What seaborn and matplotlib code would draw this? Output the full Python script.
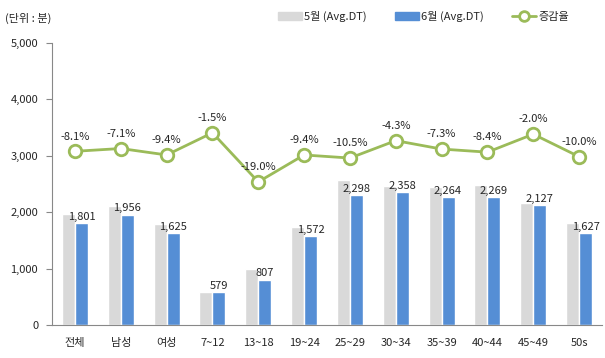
import numpy as np
import pandas as pd
import seaborn as sns
import matplotlib.pyplot as plt
from matplotlib.patches import Patch
from matplotlib.lines import Line2D

# data
groups = ['전체', '남성', '여성', '7~12', '13~18', '19~24', '25~29',
          '30~34', '35~39', '40~44', '45~49', '50s']
may = [1960, 2105, 1794, 588, 996, 1735, 2568, 2464, 2442, 2477, 2170, 1808]
june = [1801, 1956, 1625, 579, 807, 1572, 2298, 2358, 2264, 2269, 2127, 1627]
rate = [-8.1, -7.1, -9.4, -1.5, -19.0, -9.4, -10.5, -4.3, -7.3, -8.4, -2.0, -10.0]

gray = '#D9D9D9'
blue = '#558ED5'
green = '#9BBB59'

sns.set_style('white')
plt.rcParams['font.family'] = ['Noto Sans CJK KR', 'DejaVu Sans']

df = pd.DataFrame({'group': groups * 2,
                   'value': may + june,
                   'month': ['5월 (Avg.DT)'] * 12 + ['6월 (Avg.DT)'] * 12})

fig = plt.figure(figsize=(6.05, 3.58), dpi=100)
ax = fig.add_axes([0.086, 0.092, 0.909, 0.788])

sns.barplot(data=df, x='group', y='value', hue='month', order=groups,
            palette=[gray, blue], width=0.57, gap=0, ax=ax, legend=False,
            saturation=1)

# labels over the June bars
x = np.arange(len(groups))
for i, v in enumerate(june):
    ax.annotate(f'{v:,}', (i + 0.1425, v), xytext=(0, 1), textcoords='offset points',
                ha='center', va='bottom', fontsize=8)

ax.set_ylim(0, 5000)
ax.set_xlim(-0.5, len(groups) - 0.5)
ax.set_yticks(range(0, 5001, 1000))
ax.yaxis.set_major_formatter(plt.FuncFormatter(lambda v, p: f'{int(v):,}'))
ax.set_xticks(x)
ax.set_xticklabels(groups)
ax.set_xticks(np.arange(-0.5, len(groups)), minor=True)
ax.tick_params(axis='x', which='major', length=0, labelsize=8, pad=9)
ax.tick_params(axis='x', which='minor', length=4, color='#888888', direction='out')
ax.tick_params(axis='y', length=4, color='#888888', direction='out', labelsize=8, pad=6)
ax.set_xlabel('')
ax.set_ylabel('')
for s in ['top', 'right']:
    ax.spines[s].set_visible(False)
for s in ['left', 'bottom']:
    ax.spines[s].set_color('#888888')

# change rate on a hidden second axis
ax2 = ax.twinx()
sns.lineplot(x=x, y=rate, ax=ax2, color=green, lw=2, marker='o', markersize=9,
             markerfacecolor='white', markeredgecolor=green, markeredgewidth=2)
for i, r in enumerate(rate):
    ax2.annotate(f'{r:.1f}%', (i, r), xytext=(0, 7), textcoords='offset points',
                 ha='center', va='bottom', fontsize=8)
ax2.set_ylim(-70, 30.5)
ax2.set_xlim(-0.5, len(groups) - 0.5)
ax2.axis('off')

fig.text(0.008, 0.94, '(단위 : 분)', fontsize=8)

handles = [Patch(color=gray), Patch(color=blue),
           Line2D([], [], color=green, lw=2, marker='o', markersize=7,
                  markerfacecolor='white', markeredgewidth=2)]
fig.legend(handles, ['5월 (Avg.DT)', '6월 (Avg.DT)', '증감율'], ncol=3,
           loc='center', bbox_to_anchor=(0.7, 0.955), frameon=False, fontsize=8,
           handlelength=2.2, handletextpad=0.2, columnspacing=2.5)

fig.savefig('out.png', dpi=100)
